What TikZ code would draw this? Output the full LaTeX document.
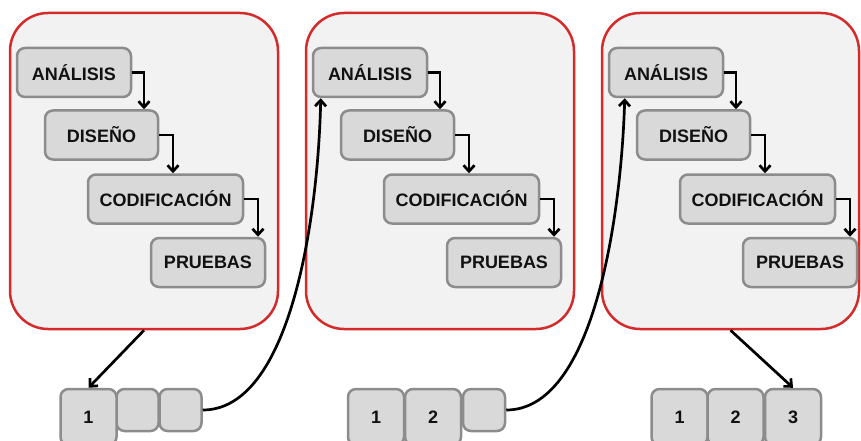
\documentclass[tikz,border=0pt]{standalone}
\usepackage{fontspec}
\setmainfont{Liberation Sans}
\usetikzlibrary{arrows.meta}
\definecolor{panelred}{HTML}{D42A2A}
\definecolor{panelfill}{HTML}{F2F2F2}
\definecolor{boxfill}{HTML}{D9D9D9}
\definecolor{boxdraw}{HTML}{8C8C8C}
\definecolor{txt}{HTML}{111111}
\tikzset{
  panel/.style={draw=panelred, fill=panelfill, line width=2.5pt, rounded corners=38pt, inner sep=0pt},
  stage/.style={draw=boxdraw, fill=boxfill, line width=2.5pt, rounded corners=8pt, inner sep=0pt,
    text=txt, font=\fontsize{18}{21}\selectfont\bfseries, minimum height=49pt},
  cellbig/.style={draw=boxdraw, fill=boxfill, line width=2.5pt, rounded corners=8pt, inner sep=0pt,
    text=txt, font=\fontsize{18}{21}\selectfont\bfseries, minimum width=56pt, minimum height=56pt},
  cellsmall/.style={draw=boxdraw, fill=boxfill, line width=2.5pt, rounded corners=8pt, inner sep=0pt,
    minimum width=42pt, minimum height=42pt},
  arr/.style={-{Straight Barb[length=6pt,width=11pt]}, line width=2.7pt, black}
}
\begin{document}
\begin{tikzpicture}[x=1pt,y=-1pt]
\useasboundingbox (0,0) rectangle (861,441);
% panels
\node[panel, minimum width=268pt, minimum height=316pt] (p1) at (144,171) {};
\node[panel, minimum width=268pt, minimum height=316pt] (p2) at (440,171) {};
\node[panel, minimum width=257pt, minimum height=316pt] (p3) at (730.5,171) {};
% stages
\foreach \i/\dx in {1/0,2/296,3/592}{
  \node[stage, minimum width=114pt] (a\i) at (74+\dx,72.5) {ANÁLISIS};
  \node[stage, minimum width=113pt] (d\i) at (101.5+\dx,135) {DISEÑO};
  \node[stage, minimum width=155pt] (c\i) at (165.5+\dx,199) {CODIFICACIÓN};
  \node[stage, minimum width=114pt] (r\i) at (208+\dx,262.5) {PRUEBAS};
  \draw[arr] (a\i.east) -| ([xshift=42.5pt]d\i.north);
  \draw[arr] (d\i.east) -| ([xshift=7.5pt]c\i.north);
  \draw[arr] (c\i.east) -| ([xshift=50pt]r\i.north);
}
% bottom cells group 1
\node[cellsmall] (g1b) at (137.5,410) {};
\node[cellsmall] (g1c) at (180.5,410) {};
\node[cellbig] (g1a) at (88.5,417) {1};
% group 2
\node[cellsmall] (g2c) at (484,410) {};
\node[cellbig] (g2a) at (376,417) {1};
\node[cellbig] (g2b) at (433,417) {2};
% group 3
\node[cellbig] (g3a) at (679.5,417) {1};
\node[cellbig] (g3b) at (735.5,417) {2};
\node[cellbig] (g3c) at (793,417) {3};
% connectors
\draw[arr] (p1.south) -- (g1a.north);
\draw[arr] (p3.south) -- (g3c.north);
\draw[arr] (g1c.east) .. controls (290,410) and (318,220) .. ([xshift=9pt]a2.south west);
\draw[arr] (g2c.east) .. controls (593,410) and (621,220) .. ([xshift=17pt]a3.south west);
\end{tikzpicture}
\end{document}
